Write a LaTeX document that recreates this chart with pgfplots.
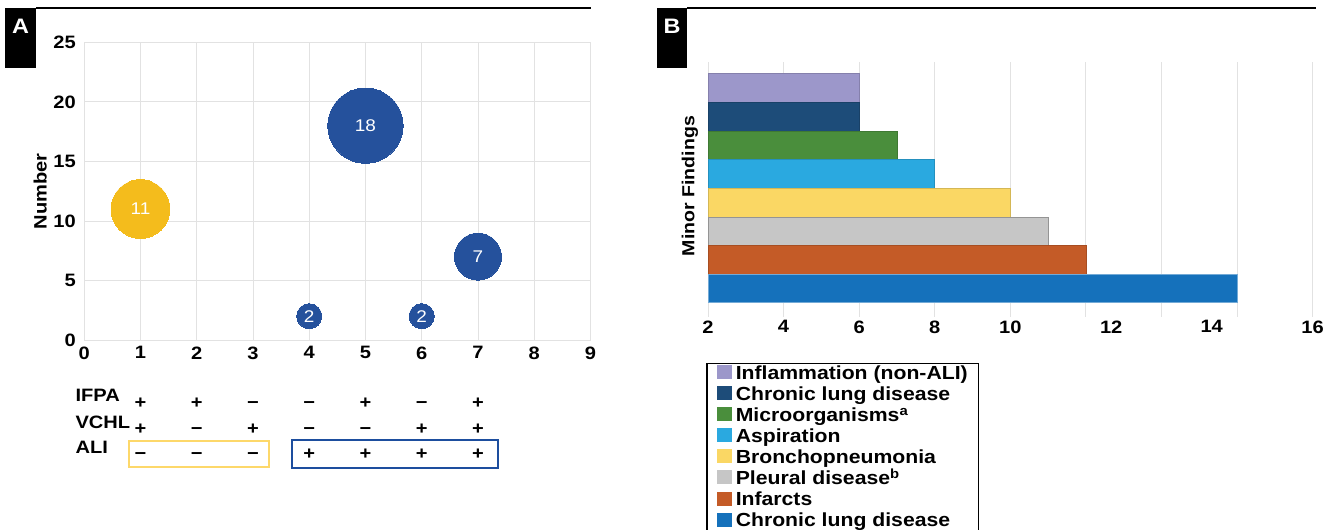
\documentclass[border=0pt]{standalone}
\usepackage{fontspec}
\setmainfont{Liberation Sans}[FakeStretch=1.12]
\usepackage{pgfplots}
\pgfplotsset{compat=1.18}
\definecolor{gridgray}{HTML}{E2E2E2}
\definecolor{ayellow}{HTML}{F4BC1C}
\definecolor{ablue}{HTML}{25519C}
\definecolor{boxyellow}{HTML}{FDD86A}
\definecolor{boxblue}{HTML}{1D4E9E}
\definecolor{c1}{HTML}{9C97CA}
\definecolor{c2}{HTML}{1D4C79}
\definecolor{c3}{HTML}{4A8E3C}
\definecolor{c4}{HTML}{2AA9E0}
\definecolor{c5}{HTML}{FAD764}
\definecolor{c6}{HTML}{C6C6C6}
\definecolor{c7}{HTML}{C45B27}
\definecolor{c8}{HTML}{1571BB}
\newcommand\fsz[1]{\fontsize{#1}{#1}\selectfont}
\pgfplotsset{
  bubble/.style={only marks, mark=*, scatter, point meta=explicit, color=#1,
    mark options={draw=#1, fill=#1, line width=0pt},
    visualization depends on={\thisrow{n} \as \bubn},
    scatter/@pre marker code/.code={%
      \pgfmathsetmacro\bubr{8.9*sqrt(\bubn)}%
      \scope[mark size=\bubr pt, fill=#1, draw=#1]},
    scatter/@post marker code/.code={%
      \node[anchor=center, text=white, font=\fsz{17}, inner sep=0pt] at (0,0) {\pgfmathprintnumber{\bubn}};%
      \endscope}},
}
\tikzset{sgn/.style={anchor=base, font=\bfseries\fsz{18}}}
\begin{document}
\begin{tikzpicture}
% ---- panel headers
\fill[black] (5bp,-8bp) rectangle (36bp,-68bp);
\node[white,font=\bfseries\fsz{21}] at (20.5bp,-26bp) {A};
\draw[line width=1.5bp] (36bp,-8bp) -- (591bp,-8bp);
\fill[black] (657bp,-8bp) rectangle (687bp,-68bp);
\node[white,font=\bfseries\fsz{21}] at (672bp,-26bp) {B};
\draw[line width=1.5bp] (687bp,-8bp) -- (1316bp,-8bp);

% ---- panel A
\begin{axis}[
  at={(84.2bp,-340bp)}, anchor=south west,
  scale only axis, width=506.3bp, height=297.7bp,
  xmin=0, xmax=9, ymin=0, ymax=25,
  xtick={0,...,9}, ytick={0,5,...,25},
  grid=major, major grid style={draw=gridgray, line width=0.8bp},
  axis line style={draw=gridgray, line width=0.8bp},
  major tick length=0pt,
  /pgf/number format/assume math mode=true,
  tick label style={font=\bfseries\fsz{18}},
  xticklabel style={yshift=-3bp},
  yticklabel style={xshift=-5bp},
  clip=false,
  ylabel={Number},
  every axis y label/.style={at={(rel axis cs:-0.087,0.5)}, rotate=90, anchor=center, font=\bfseries\fsz{18}},
]
\addplot[bubble=ayellow] table[x=x, y=y, meta=n] {
x y n
1 11 11
};
\addplot[bubble=ablue] table[x=x, y=y, meta=n] {
x y n
4 2 2
5 18 18
6 2 2
7 7 7
};
% sign table (IFPA / VCHL / ALI)
\node[sgn] at (axis cs:1,0) [yshift=-68bp] {+};
\node[sgn] at (axis cs:2,0) [yshift=-68bp] {+};
\node[sgn] at (axis cs:3,0) [yshift=-68bp] {−};
\node[sgn] at (axis cs:4,0) [yshift=-68bp] {−};
\node[sgn] at (axis cs:5,0) [yshift=-68bp] {+};
\node[sgn] at (axis cs:6,0) [yshift=-68bp] {−};
\node[sgn] at (axis cs:7,0) [yshift=-68bp] {+};
\node[sgn] at (axis cs:1,0) [yshift=-94bp] {+};
\node[sgn] at (axis cs:2,0) [yshift=-94bp] {−};
\node[sgn] at (axis cs:3,0) [yshift=-94bp] {+};
\node[sgn] at (axis cs:4,0) [yshift=-94bp] {−};
\node[sgn] at (axis cs:5,0) [yshift=-94bp] {−};
\node[sgn] at (axis cs:6,0) [yshift=-94bp] {+};
\node[sgn] at (axis cs:7,0) [yshift=-94bp] {+};
\node[sgn] at (axis cs:1,0) [yshift=-119bp] {−};
\node[sgn] at (axis cs:2,0) [yshift=-119bp] {−};
\node[sgn] at (axis cs:3,0) [yshift=-119bp] {−};
\node[sgn] at (axis cs:4,0) [yshift=-119bp] {+};
\node[sgn] at (axis cs:5,0) [yshift=-119bp] {+};
\node[sgn] at (axis cs:6,0) [yshift=-119bp] {+};
\node[sgn] at (axis cs:7,0) [yshift=-119bp] {+};
\end{axis}
\node[anchor=base west, font=\bfseries\fsz{18}] at (72bp,-401.5bp) {IFPA};
\node[anchor=base west, font=\bfseries\fsz{18}] at (72bp,-428.5bp) {VCHL};
\node[anchor=base west, font=\bfseries\fsz{18}] at (72bp,-453.5bp) {ALI};
\draw[boxyellow, line width=2.5bp] (129bp,-441bp) rectangle (269bp,-467bp);
\draw[boxblue, line width=2.5bp] (292bp,-440bp) rectangle (498bp,-468bp);

% ---- panel B
\begin{axis}[
  at={(708bp,-317bp)}, anchor=south west,
  scale only axis, width=604.6bp, height=254.8bp,
  xmin=2, xmax=18, ymin=0, ymax=8.9,
  xbar, bar width=1,
  xtick={2,4,...,18}, xticklabels={2,4,6,8,10,{},{},{},16},
  extra x ticks={12.67,15.33}, extra x tick labels={12,14},
  extra x tick style={grid=none},
  ytick=\empty,
  xmajorgrids, major grid style={draw=gridgray, line width=0.8bp},
  axis line style={draw=none},
  major tick length=0pt,
  /pgf/number format/assume math mode=true,
  tick label style={font=\bfseries\fsz{18}},
  ylabel={Minor Findings},
  every axis y label/.style={at={(rel axis cs:-0.0298,0.514)}, rotate=90, anchor=center, font=\bfseries\fsz{17.5}},
  legend style={at={(-0.0033,-0.1805)}, anchor=north west, draw=black, line width=1.5bp,
    inner xsep=10.5bp, inner ysep=1.5bp, row sep=2.3bp, column sep=4bp,
    font=\bfseries\fsz{19},
    nodes={inner sep=0pt, text height=14bp, text depth=4.5bp}},
  legend cell align=left,
  legend image code/.code={\path[#1, draw=none] (0bp,-4.5bp) rectangle (14.5bp,9.5bp);},
]
\addplot[bar shift=0pt, fill=c1, draw=c1!85!black, line width=0.6bp] coordinates {(6,8)};
\addplot[bar shift=0pt, fill=c2, draw=c2!85!black, line width=0.6bp] coordinates {(6,7)};
\addplot[bar shift=0pt, fill=c3, draw=c3!85!black, line width=0.6bp] coordinates {(7,6)};
\addplot[bar shift=0pt, fill=c4, draw=c4!85!black, line width=0.6bp] coordinates {(8,5)};
\addplot[bar shift=0pt, fill=c5, draw=c5!85!black, line width=0.6bp] coordinates {(10,4)};
\addplot[bar shift=0pt, fill=c6, draw=c6!75!black, line width=0.6bp] coordinates {(11,3)};
\addplot[bar shift=0pt, fill=c7, draw=c7!85!black, line width=0.6bp] coordinates {(12,2)};
\addplot[bar shift=0pt, fill=c8, draw=c8!60!white, line width=0.6bp] coordinates {(16,1)};
\legend{Inflammation (non-ALI), Chronic lung disease, Microorganisms\textsuperscript{a}, Aspiration, Bronchopneumonia, Pleural disease\textsuperscript{b}, Infarcts, Chronic lung disease}
\end{axis}
\pgfresetboundingbox
\useasboundingbox (0bp,0bp) rectangle (1336bp,-530bp);
\end{tikzpicture}
\end{document}
